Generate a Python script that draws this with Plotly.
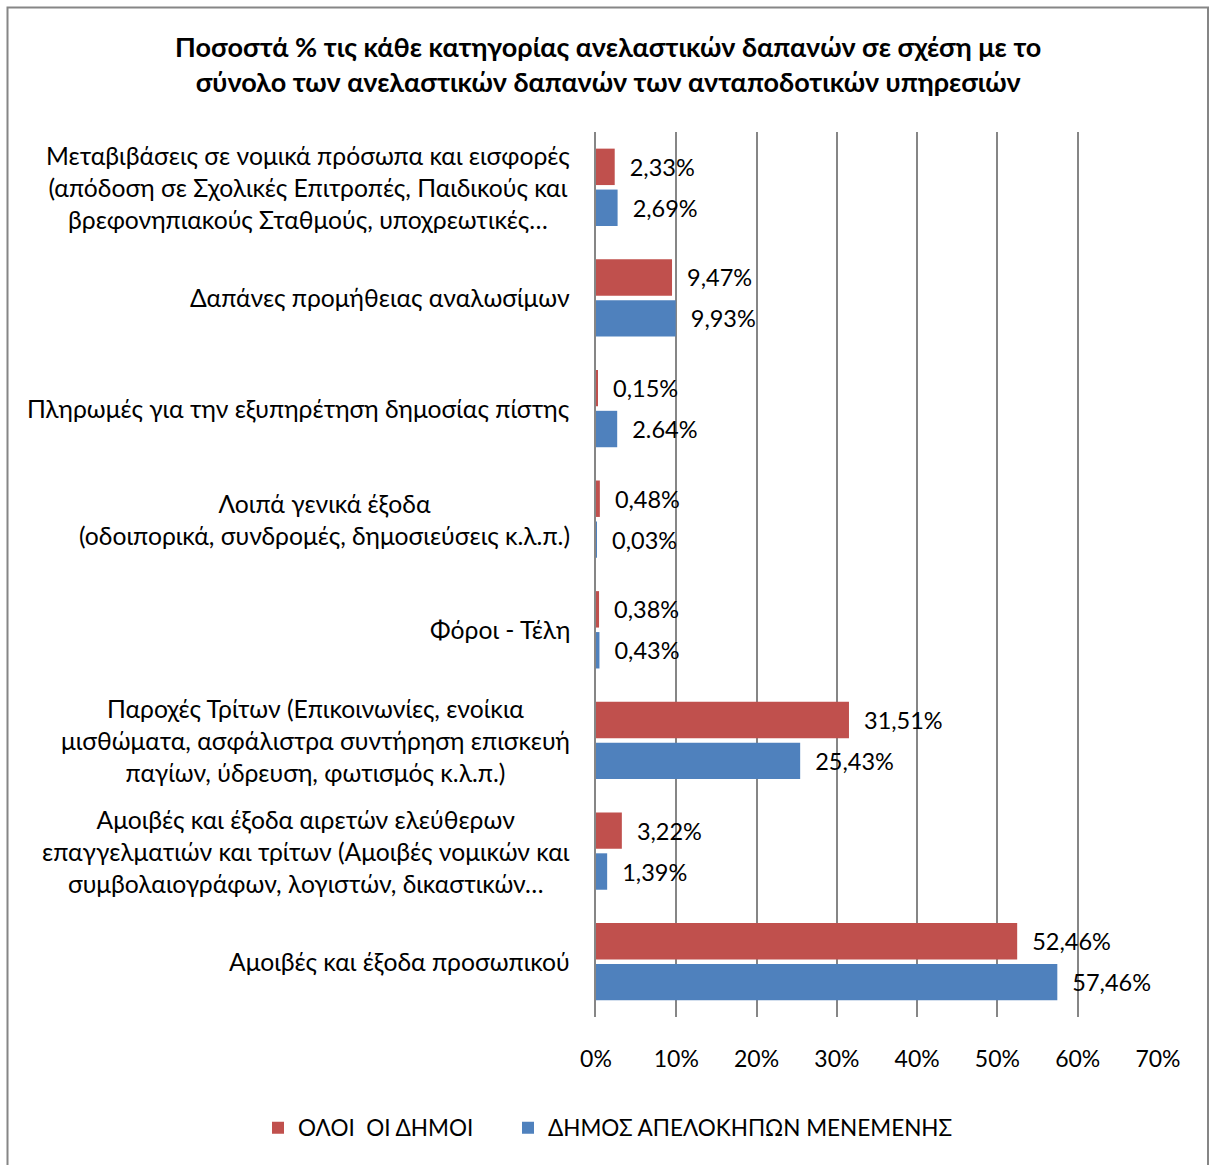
import plotly.graph_objects as go

# ---------------- data ----------------
categories = [
    ["Μεταβιβάσεις σε νομικά πρόσωπα και εισφορές",
     "(απόδοση σε Σχολικές Επιτροπές, Παιδικούς και",
     "βρεφονηπιακούς Σταθμούς, υποχρεωτικές…"],
    ["Δαπάνες προμήθειας αναλωσίμων"],
    ["Πληρωμές για την εξυπηρέτηση δημοσίας πίστης"],
    ["Λοιπά γενικά έξοδα",
     "(οδοιπορικά, συνδρομές, δημοσιεύσεις κ.λ.π.)"],
    ["Φόροι - Τέλη"],
    ["Παροχές Τρίτων (Επικοινωνίες, ενοίκια",
     "μισθώματα, ασφάλιστρα συντήρηση επισκευή",
     "παγίων, ύδρευση, φωτισμός κ.λ.π.)"],
    ["Αμοιβές και έξοδα αιρετών ελεύθερων",
     "επαγγελματιών και τρίτων (Αμοιβές νομικών και",
     "συμβολαιογράφων, λογιστών, δικαστικών…"],
    ["Αμοιβές και έξοδα προσωπικού"],
]
series_names = ["ΟΛΟΙ  ΟΙ ΔΗΜΟΙ", "ΔΗΜΟΣ ΑΠΕΛΟΚΗΠΩΝ ΜΕΝΕΜΕΝΗΣ"]
all_municipalities = [2.33, 9.47, 0.15, 0.48, 0.38, 31.51, 3.22, 52.46]
apelokipi = [2.69, 9.93, 2.64, 0.03, 0.43, 25.43, 1.39, 57.46]
all_labels = ["2,33%", "9,47%", "0,15%", "0,48%", "0,38%", "31,51%", "3,22%", "52,46%"]
apelokipi_labels = ["2,69%", "9,93%", "2.64%", "0,03%", "0,43%", "25,43%", "1,39%", "57,46%"]
x_ticks = [0, 10, 20, 30, 40, 50, 60, 70]
x_tick_labels = ["0%", "10%", "20%", "30%", "40%", "50%", "60%", "70%"]
title_lines = [
    "Ποσοστά % τις κάθε κατηγορίας ανελαστικών δαπανών σε σχέση με το",
    "σύνολο των ανελαστικών δαπανών των ανταποδοτικών υπηρεσιών",
]

# ---------------- styling ----------------
FONT = "Lato"
RED = "#C0504D"
BLUE = "#4F81BD"
GRID = "#868686"
W, H = 1210, 1165
PL, PR, PT, PB = 596, 1158, 132, 1017   # plot area in pixels
PW, PH = PR - PL, PB - PT
ML, MT, MR, MB = PL, PT, W - PR, H - PB

cat_keys = ["<br>".join(c) for c in categories]
PAD = "\u00a0\u00a0"

fig = go.Figure()
for name, vals, labels, col, leg in [
    (series_names[0], all_municipalities, all_labels, RED, "legend"),
    (series_names[1], apelokipi, apelokipi_labels, BLUE, "legend2"),
]:
    fig.add_trace(go.Bar(
        y=cat_keys, x=vals, name=name, orientation="h", legend=leg,
        marker=dict(color=col, line=dict(width=0)),
        text=[PAD + t for t in labels], textposition="outside",
        textfont=dict(family=FONT, size=23.5, color="#000000"),
        constraintext="none", cliponaxis=False, hoverinfo="skip",
    ))

def px_x(px):
    return (px - PL) / PW

def px_y(py):
    return (PB - py) / PH

annotations = []
LABEL_SIZE = 24.7
LINE_PX = 32
for key, lines in zip(cat_keys, categories):
    txt = "<br>".join(f"<span style='font-size:{LABEL_SIZE}px'>{l}</span>" for l in lines)
    annotations.append(dict(
        x=px_x(572), xref="paper", xanchor="right",
        y=key, yref="y", yanchor="middle",
        text=txt, showarrow=False, align="center",
        font=dict(family=FONT, size=LINE_PX / 1.3, color="#000000"),
    ))

title_txt = "<br>".join(f"<span style='font-size:27px'><b>{l}</b></span>" for l in title_lines)
annotations.append(dict(
    x=px_x(608), xref="paper", xanchor="center",
    y=px_y(64), yref="paper", yanchor="middle",
    text=title_txt, showarrow=False, align="center",
    font=dict(family=FONT, size=35 / 1.3, color="#000000"),
))

legend_common = dict(orientation="h", xref="container", xanchor="left",
                     yref="container", y=1 - 1128 / H, yanchor="middle",
                     font=dict(family=FONT, size=22.5), itemwidth=30,
                     bgcolor="rgba(0,0,0,0)")

fig.update_layout(
    width=W, height=H,
    margin=dict(l=ML, r=MR, t=MT, b=MB, autoexpand=False),
    paper_bgcolor="white", plot_bgcolor="white",
    barmode="group", bargap=0.26, bargroupgap=0.11,
    font=dict(family=FONT, size=22, color="#000000"),
    showlegend=True,
    legend=dict(x=258 / W, **legend_common),
    legend2=dict(x=508 / W, **legend_common),
    annotations=annotations,
    shapes=[dict(type="rect", xref="paper", yref="paper",
                 x0=px_x(7.5), x1=px_x(1208), y0=px_y(1180), y1=px_y(7.5),
                 line=dict(color=GRID, width=2), fillcolor="rgba(0,0,0,0)")],
)
fig.update_xaxes(range=[0, 70], tickvals=x_ticks, ticktext=x_tick_labels,
                 showgrid=True, gridcolor=GRID, gridwidth=1.5,
                 zeroline=False, showline=False, ticks="",
                 tickfont=dict(family=FONT, size=23), ticklabelstandoff=26)
fig.update_yaxes(autorange="reversed", showticklabels=False, showgrid=False,
                 showline=True, linecolor=GRID, linewidth=1.5, ticks="",
                 zeroline=False)

fig.write_html("out.html", config={"displayModeBar": False},
               post_script="document.body.style.margin='0px';")
